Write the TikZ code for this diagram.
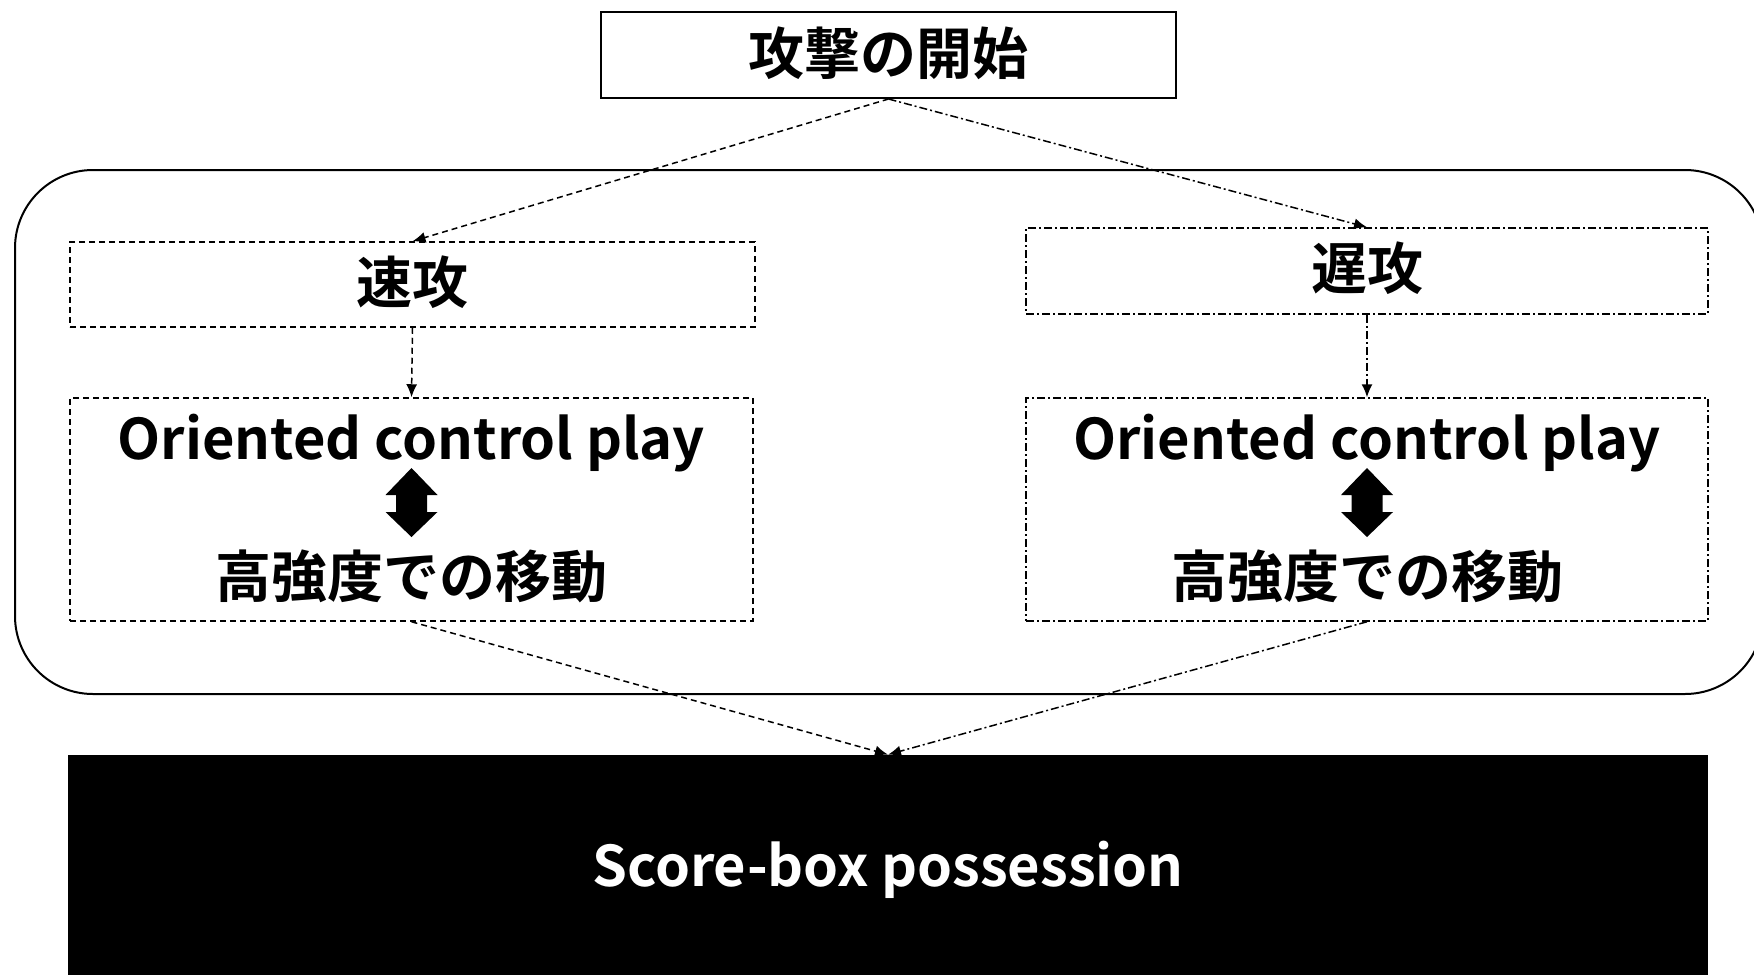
\documentclass[tikz,border=0pt]{standalone}
\usepackage{fontspec}
\setmainfont{Noto Sans CJK JP}[BoldFont={Noto Sans CJK JP Bold}]
\usetikzlibrary{arrows.meta}
\tikzset{
  txt/.style={font=\bfseries\fontsize{28pt}{33pt}\selectfont, inner sep=0pt},
  solidbox/.style={draw, line width=1pt},
  dsh/.style={dash pattern=on 3pt off 2pt, line width=0.75pt},
  dshdot/.style={dash pattern=on 4pt off 1.5pt on 1pt off 1.5pt, line width=0.75pt},
  tip/.style={-{Latex[length=6.5pt,width=5.5pt]}},
  dblarrow/.pic={\fill (0,-34.5) -- (26,-7.5) -- (15.5,-7.5) -- (15.5,9.5) -- (26,9.5) -- (0,34.5) -- (-26,9.5) -- (-15.5,9.5) -- (-15.5,-7.5) -- (-26,-7.5) -- cycle;}
}
\begin{document}
\begin{tikzpicture}[x=0.5pt,y=-0.5pt]
\useasboundingbox (0,0) rectangle (1754,974);
% container
\node[draw, line width=1pt, rounded corners=39pt, minimum width=874pt, minimum height=262pt, inner sep=0pt] (frame) at (889,432) {};
% top box
\node[solidbox, minimum width=287.5pt, minimum height=43pt, inner sep=0pt] (top) at (888.5,55) {};
\node[txt] (toptxt) at (888.5,53) {攻撃の開始};
% fast
\node[draw, dsh, minimum width=342.5pt, minimum height=42.5pt, inner sep=0pt] (fast) at (412.5,284.5) {};
\node[txt] (fasttxt) at (412.5,282) {速攻};
\node[draw, dsh, minimum width=341.5pt, minimum height=111.5pt, inner sep=0pt] (fastbody) at (411.5,509.5) {};
\node[txt] (fastocp) at (411.5,443) {Oriented control play};
\pic (fastda) at (411.5,502.5) {dblarrow};
\node[txt] (fastmove) at (411.5,576) {高強度での移動};
% slow
\node[draw, dshdot, minimum width=341pt, minimum height=43pt, inner sep=0pt] (slow) at (1367,271) {};
\node[txt] (slowtxt) at (1367,268) {遅攻};
\node[draw, dshdot, minimum width=341pt, minimum height=111.5pt, inner sep=0pt] (slowbody) at (1367,509.5) {};
\node[txt] (slowocp) at (1367,443) {Oriented control play};
\pic (slowda) at (1367,502.5) {dblarrow};
\node[txt] (slowmove) at (1367,576) {高強度での移動};
% score box
\node[fill=black, minimum width=820pt, minimum height=112.5pt, inner sep=0pt] (score) at (888,867.5) {};
\node[txt, text=white] (scoretxt) at (888,870) {Score-box possession};
% connectors
\draw[dsh, tip] (top.south) -- (fast.north);
\draw[dshdot, tip] (top.south) -- (slow.north);
\draw[dsh, tip] (fast.south) -- (fastbody.north);
\draw[dshdot, tip] (slow.south) -- (slowbody.north);
\draw[dsh, tip] (fastbody.south) -- (score.north);
\draw[dshdot, tip] (slowbody.south) -- (score.north);
\end{tikzpicture}
\end{document}
